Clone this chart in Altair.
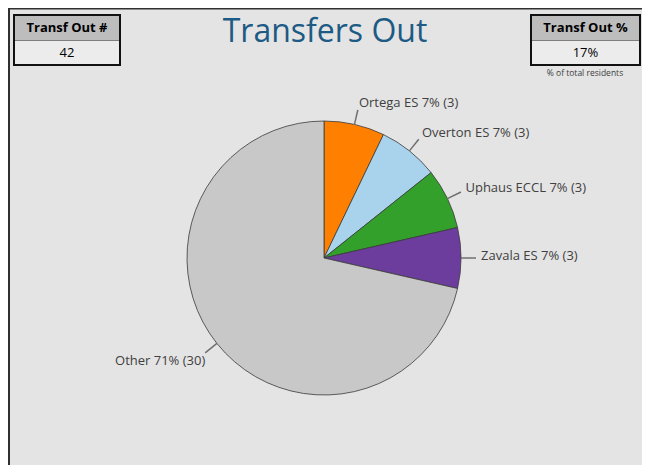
import altair as alt
import pandas as pd

schools = ["Ortega ES", "Overton ES", "Uphaus ECCL", "Zavala ES", "Other"]
counts = [3, 3, 3, 3, 30]
pcts = [7, 7, 7, 7, 71]
sides = ["R", "R", "R", "R", "L"]
colors = ["#ff8000", "#a9d3ec", "#33a02c", "#6d3d9e", "#c8c8c8"]

kpi_titles = ["Transf Out #", "Transf Out %"]
kpi_values = ["42", "17%"]
kpi_note = "% of total residents"
title_text = "Transfers Out"

FONT = "Open Sans"

df = pd.DataFrame({
    "school": schools,
    "count": counts,
    "pct": pcts,
    "side": sides,
    "idx": list(range(len(schools))),
})
df["label"] = [f"{s} {p}% ({c})" for s, p, c in zip(schools, pcts, counts)]
df["label_r"] = [l if s == "R" else "" for l, s in zip(df["label"], sides)]
df["label_l"] = [l if s == "L" else "" for l, s in zip(df["label"], sides)]

CX, CY, R = 316, 250, 137

base = alt.Chart(df).encode(
    x=alt.value(CX), y=alt.value(CY),
    order=alt.Order("idx:Q"),
)

theta = alt.Theta("count:Q", stack=True)

pie = base.mark_arc(radius=R, stroke="#3a3a3a", strokeWidth=0.8).encode(
    theta=theta,
    color=alt.Color("school:N", scale=alt.Scale(domain=schools, range=colors), legend=None),
)

leader = base.transform_window(
    cum="sum(count)", sort=[alt.SortField("idx")], frame=[None, 0]
).transform_calculate(
    t1="datum.cum - datum.count/2 - 0.035",
    t2="datum.cum - datum.count/2 + 0.035",
).mark_arc(radius=R + 15, radius2=R, color="#707070").encode(
    theta=alt.Theta("t1:Q", stack=None),
    theta2="t2:Q",
)

lab_r = base.mark_text(radius=R + 20, align="left", baseline="middle", dy=-2,
                       font=FONT, fontSize=13, color="#404040").encode(
    theta=theta, text="label_r:N")
lab_l = base.mark_text(radius=R + 20, align="right", baseline="middle", dx=4, dy=5,
                       font=FONT, fontSize=13, color="#404040").encode(
    theta=theta, text="label_l:N")

one = alt.Data(values=[{"a": 1}])

def rect(x, x2, y, y2, fill, stroke=None, sw=0):
    kw = dict(fill=fill)
    if stroke:
        kw.update(stroke=stroke, strokeWidth=sw)
    return alt.Chart(one).mark_rect(**kw).encode(
        x=alt.value(x), x2=alt.value(x2), y=alt.value(y), y2=alt.value(y2))

def text(s, x, y, size, color="#000000", weight="normal", font=FONT):
    return alt.Chart(one).mark_text(text=s, fontSize=size, color=color, fontWeight=weight,
                                    font=font, align="center", baseline="middle").encode(
        x=alt.value(x), y=alt.value(y))

layers = []
# frame lines
layers.append(rect(0, 2, 0, 457, "#303030"))
layers.append(rect(0, 634, 0, 1.5, "#303030"))

boxes = [(6, 112), (523, 632)]
for (x0, x1), t, v in zip(boxes, kpi_titles, kpi_values):
    layers.append(rect(x0, x1, 7, 32, "#bdbdbd"))
    layers.append(rect(x0, x1, 32, 57, "#ececec"))
    layers.append(rect(x0, x1, 7, 57, "transparent", "#111111", 2))
    layers.append(rect(x0, x1, 32, 32.5, "#111111"))
    cx = (x0 + x1) / 2
    layers.append(text(t, cx, 20, 13, weight="bold"))
    layers.append(text(v, cx, 45, 13))

layers.append(text(kpi_note, 577, 65, 8.5, color="#404040"))
layers.append(text(title_text, 317, 24, 32, color="#1d5a84"))

chart = alt.layer(pie, leader, lab_r, lab_l, *layers).properties(
    width=634, height=457,
    autosize=alt.AutoSizeParams(type="none"),
    padding=0,
    background="#e4e4e4",
).configure_view(stroke=None)

chart.save("out.html", embed_options={"renderer": "svg", "actions": False})
